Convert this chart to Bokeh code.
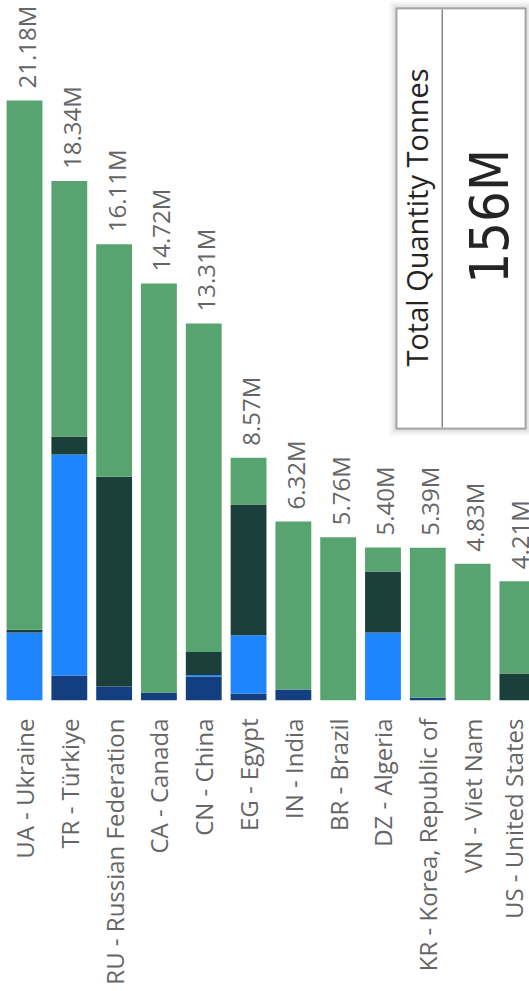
import numpy as np
from bokeh.plotting import figure
from bokeh.models import ColumnDataSource, Range1d, FixedTicker, BoxAnnotation, Label
from bokeh.core.properties import value
from bokeh.embed import file_html
from bokeh.resources import INLINE

countries = ["UA - Ukraine", "TR - Türkiye", "RU - Russian Federation", "CA - Canada",
             "CN - China", "EG - Egypt", "IN - India", "BR - Brazil", "DZ - Algeria",
             "KR - Korea, Republic of", "VN - Viet Nam", "US - United States"]
totals = [21.18, 18.34, 16.11, 14.72, 13.31, 8.57, 6.32, 5.76, 5.40, 5.39, 4.83, 4.21]
navy = [0.00, 0.88, 0.49, 0.28, 0.85, 0.25, 0.39, 0.00, 0.00, 0.10, 0.00, 0.00]
blue = [2.40, 7.80, 0.00, 0.00, 0.05, 2.05, 0.00, 0.00, 2.40, 0.00, 0.00, 0.00]
dark = [0.10, 0.64, 7.41, 0.00, 0.81, 4.62, 0.00, 0.00, 2.15, 0.00, 0.00, 0.95]
green = [18.68, 9.02, 8.21, 14.44, 11.60, 1.65, 5.93, 5.76, 0.85, 5.29, 4.83, 3.26]
card_title = "Total Quantity Tonnes"
card_value = "156M"

idx = list(range(len(countries)))
src = ColumnDataSource(dict(x=idx, navy=navy, blue=blue, dark=dark, green=green,
                            total=totals, label=[f"{t:.2f}M" for t in totals]))

p = figure(width=529, height=991, x_range=Range1d(-0.536, 11.27), y_range=Range1d(0, 24.71),
           output_backend="svg", toolbar_location=None, y_axis_location=None,
           min_border_left=0, min_border_right=0, min_border_top=0, min_border_bottom=291)
p.outline_line_color = None
p.xgrid.visible = False
p.ygrid.visible = False
p.background_fill_color = "white"
p.border_fill_color = "white"

p.vbar_stack(["navy", "blue", "dark", "green"], x="x", width=0.8, source=src,
             color=["#133F80", "#1F85FF", "#1B403B", "#58A471"], line_color=None)

p.text(x="x", y="total", text="label", source=src, angle=np.pi / 2,
       text_align="left", text_baseline="middle", y_offset=-12, x_offset=2,
       text_font=value("Open Sans"), text_font_size="24px", text_color="#666666")

ax = p.xaxis[0]
ax.ticker = FixedTicker(ticks=idx)
ax.major_label_overrides = {i: c for i, c in enumerate(countries)}
ax.major_label_orientation = np.pi / 2
ax.axis_line_color = None
ax.major_tick_line_color = None
ax.minor_tick_line_color = None
ax.major_label_standoff = 12
ax.major_label_text_font = "Open Sans"
ax.major_label_text_font_size = "24px"
ax.major_label_text_color = "#666666"

# card (screen units, measured up from the frame bottom)
def box(l, r, t, b, **kw):
    return BoxAnnotation(left=l, right=r, top=t, bottom=b,
                         left_units="screen", right_units="screen",
                         top_units="screen", bottom_units="screen", **kw)

for i, a in enumerate([0.05, 0.04, 0.03, 0.02]):
    m = 2 + i * 2
    p.add_layout(box(396 - m, 525 + m, 692 + m, 272 - m,
                     fill_color="black", fill_alpha=a, line_color=None))
p.add_layout(box(396, 525, 692, 272, fill_color="white", fill_alpha=1,
                 line_color="black", line_width=2))
p.add_layout(box(441, 442.5, 691, 273, fill_color="#888888", fill_alpha=1, line_color=None))
p.add_layout(Label(x=416, y=483, x_units="screen", y_units="screen", text=card_title,
                   angle=90, angle_units="deg", text_align="center", text_baseline="middle",
                   text_font="Open Sans", text_font_size="29px", text_color="#252423"))
p.add_layout(Label(x=489, y=484, x_units="screen", y_units="screen", text=card_value,
                   angle=90, angle_units="deg", text_align="center", text_baseline="middle",
                   text_font="DejaVu Sans Condensed", text_font_size="54px", text_color="#252423"))

open("out.html", "w").write(file_html(p, INLINE))
